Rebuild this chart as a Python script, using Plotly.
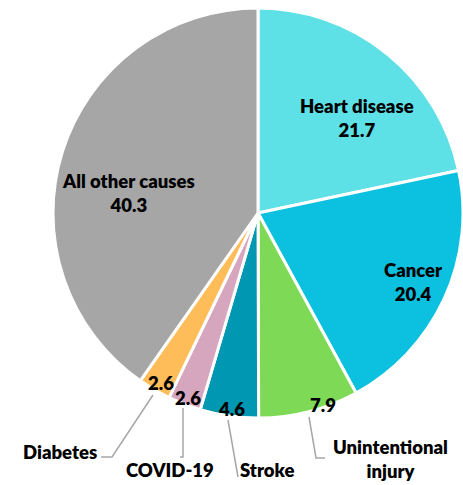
import plotly.graph_objects as go

causes = ["Heart disease", "Cancer", "Unintentional injury", "Stroke", "COVID-19", "Diabetes", "All other causes"]
values = [21.7, 20.4, 7.9, 4.6, 2.6, 2.6, 40.3]
colors = ["#5DE0E6", "#0CC0DF", "#7ED957", "#0097B2", "#D5A6BD", "#FFBD59", "#A6A6A6"]

W, H = 463, 485
FONT = "Lato, 'Open Sans', sans-serif"
FS = 18.5

def px(x):
    return x / W

def py(y):
    return 1 - y / H

fig = go.Figure(go.Pie(
    labels=causes, values=values, sort=False, direction="clockwise", rotation=0,
    marker=dict(colors=colors, line=dict(color="white", width=3)),
    textinfo="none", hoverinfo="label+value",
    domain=dict(x=[px(53), px(463)], y=[py(418), py(8)]),
    showlegend=False,
))

label_pos = {
    "Heart disease": (357, 118),
    "Cancer": (413, 282),
    "All other causes": (128, 193),
    "Unintentional injury": (323, 405),
    "Stroke": (232, 409),
    "COVID-19": (188, 398),
    "Diabetes": (161, 383),
}
inside_names = {"Heart disease", "Cancer", "All other causes"}

ann = []
for c, v in zip(causes, values):
    x, y = label_pos[c]
    txt = f"{c}<br>{v}" if c in inside_names else f"{v}"
    ann.append(dict(x=px(x), y=py(y), xref="paper", yref="paper", text=txt, showarrow=False,
                    font=dict(family=FONT, size=FS, color="#000000", weight=800),
                    xanchor="center", yanchor="middle"))

outside = [
    ("Diabetes", 60, 452),
    ("COVID-19", 170, 470),
    ("Stroke", 267, 470),
    ("Unintentional<br>injury", 390, 459),
]
for t, x, y in outside:
    ann.append(dict(x=px(x), y=py(y), xref="paper", yref="paper", text=t, showarrow=False,
                    font=dict(family=FONT, size=FS, color="#000000", weight=800),
                    xanchor="center", yanchor="middle"))

leaders = [
    [(153, 395), (112, 457), (101, 457)],
    [(183, 408), (183, 457), (180, 457)],
    [(228, 420), (238, 477)],
    [(309, 417), (316, 458), (325, 458)],
]
shapes = []
for pts in leaders:
    path = "M " + " L ".join(f"{px(x)},{py(y)}" for x, y in pts)
    shapes.append(dict(type="path", path=path, xref="paper", yref="paper",
                       line=dict(color="#A6A6A6", width=1.5)))

fig.update_layout(
    width=W, height=H, margin=dict(l=0, r=0, t=0, b=0),
    paper_bgcolor="white", plot_bgcolor="white",
    annotations=ann, shapes=shapes,
)
fig.write_html("out.html", config={"displayModeBar": False},
               post_script="document.body.style.margin='0';document.body.style.overflow='hidden';")
